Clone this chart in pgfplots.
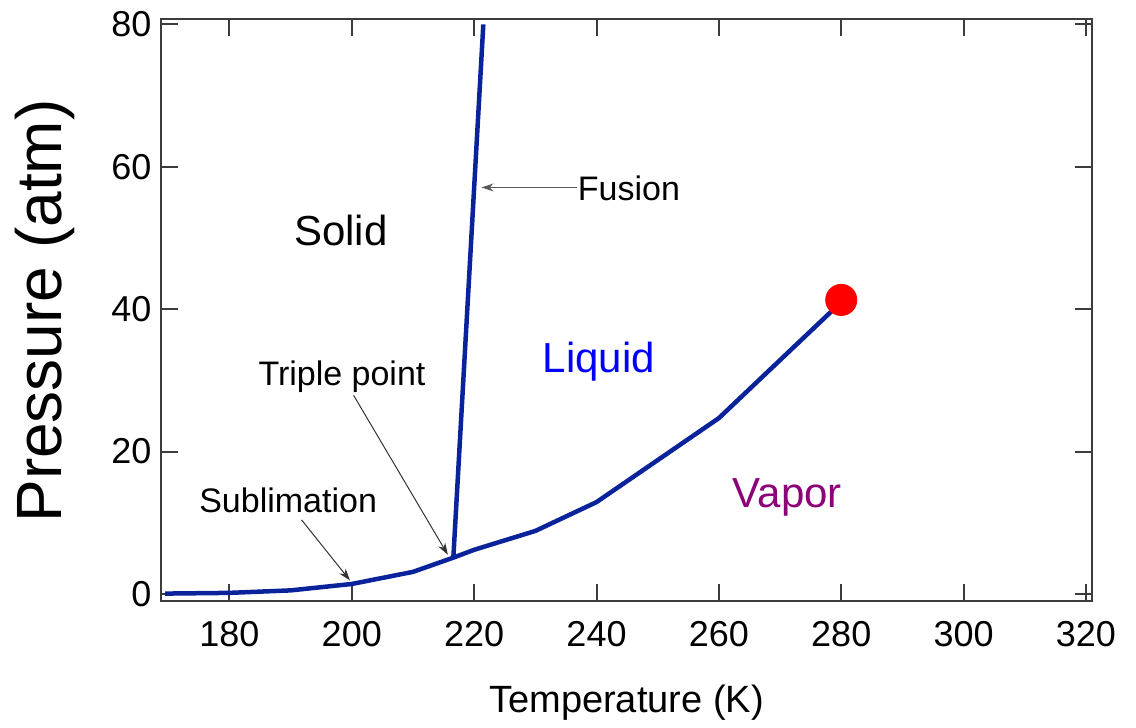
\documentclass[border=0pt]{standalone}
\usepackage{fontspec}
\setmainfont{Liberation Sans}
\usepackage{pgfplots}
\pgfplotsset{compat=1.18}
\usetikzlibrary{arrows.meta}

\definecolor{curveblue}{RGB}{10,35,155}
\definecolor{axisgray}{RGB}{60,60,60}
\definecolor{vaporpurple}{RGB}{140,0,120}

\begin{document}
\begin{tikzpicture}
\begin{axis}[
    name=ax,
    scale only axis,
    width=465pt, height=291pt,
    xmin=168.9, xmax=320.9,
    ymin=-0.95, ymax=80.8,
    xtick={180,200,...,320},
    ytick={0,20,...,80},
    tick align=inside,
    major tick length=8.5pt,
    axis line style={axisgray, line width=1pt},
    tick style={axisgray, line width=1pt},
    ticklabel style={font=\fontsize{18}{18}\selectfont},
    xticklabel style={yshift=-7pt},
    yticklabel style={xshift=-1.5pt},
    /pgf/number format/assume math mode=true,
    xlabel={Temperature (K)},
    ylabel={Pressure (atm)},
    xlabel style={font=\fontsize{19}{19}\selectfont,
        at={(axis description cs:0.5,-0.1758)}, anchor=center},
    ylabel style={font=\fontsize{32}{32}\selectfont,
        at={(axis description cs:-0.1252,0.4978)}, anchor=center},
    clip=false,
]
% sublimation / vaporization curve
\addplot[curveblue, line width=2.25pt, line join=round] coordinates {
    (169.5,0.05) (180,0.15) (190,0.5) (200,1.4) (210,3.1) (216.6,5.1)
    (220,6.2) (230,8.85) (240,12.9) (260,24.7) (280,41.0)
};
% fusion curve
\addplot[curveblue, line width=2.25pt] coordinates {
    (216.6,5.1) (221.5,80)
};
% end point
\addplot[only marks, mark=*, mark size=7.8pt,
    mark options={draw=red, fill=red}] coordinates {(280,41.3)};

% region labels
\node[font=\fontsize{21}{21}\selectfont] at (198.2,51.0) {Solid};
\node[font=\fontsize{21}{21}\selectfont, text=blue] at (240.4,32.6) {Liquid};
\node[font=\fontsize{21}{21}\selectfont, text=vaporpurple] at (271.2,13.6) {Vapor};

% annotations
\node[font=\fontsize{17}{17}\selectfont, anchor=west, inner sep=0pt] at (236.9,57.0) {Fusion};
\draw[gray!70!black, line width=0.6pt, -{Stealth[length=6pt,width=4pt]}]
    (236.8,57.1) -- (221.2,57.1);
\node[font=\fontsize{17}{17}\selectfont] at (198.4,30.5) {Triple point};
\draw[black!80, line width=0.5pt, -{Stealth[length=6pt,width=4pt]}]
    (200.3,27.9) -- (215.7,5.5);
\node[font=\fontsize{17}{17}\selectfont] at (189.6,13.2) {Sublimation};
\draw[black!80, line width=0.5pt, -{Stealth[length=6pt,width=4pt]}]
    (191.8,10.4) -- (199.7,1.9);
\end{axis}
\path ([xshift=-80.75pt, yshift=-60.15pt]ax.south west)
    rectangle ([xshift=487.25pt, yshift=300.35pt]ax.south west);
\end{tikzpicture}
\end{document}
